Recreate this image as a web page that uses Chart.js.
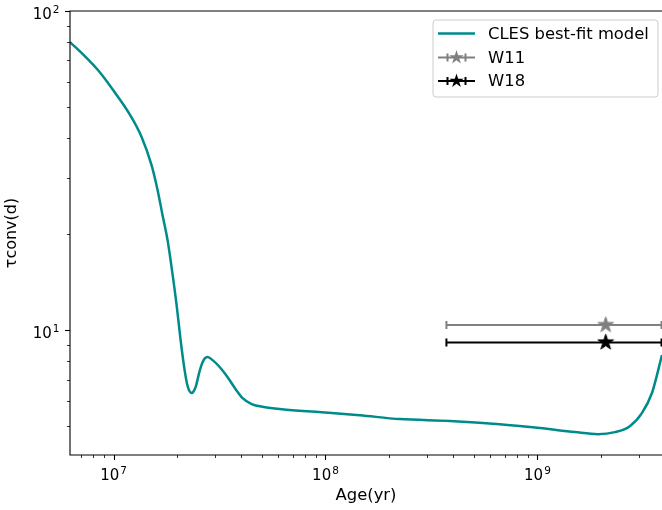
<!DOCTYPE html>
<html>
<head>
<meta charset="utf-8">
<script src="https://cdn.jsdelivr.net/npm/chart.js@4.4.0/dist/chart.umd.min.js"></script>
<style>
    html, body { margin: 0; padding: 0; background: #fff; }
    #chart { display: block; }
</style>
</head>
<body>
<canvas id="chart" width="662" height="510"></canvas>
<script>
// CLES best-fit model (age in yr, tau_conv in days)
var ages = [6.23e6, 7.30e6, 8.59e6, 1.011e7, 1.19e7, 1.356e7, 1.511e7, 1.613e7, 1.703e7, 1.799e7, 1.90e7,
            1.984e7, 2.072e7, 2.164e7, 2.236e7, 2.335e7, 2.439e7, 2.547e7, 2.66e7, 2.778e7, 2.934e7,
            3.166e7, 3.453e7, 3.767e7, 4.065e7, 4.484e7, 5.109e7, 6.21e7, 9.59e7, 1.45e8, 2.24e8,
            3.86e8, 6.64e8, 1.026e9, 1.502e9, 1.929e9, 2.32e9, 2.73e9, 3.11e9, 3.47e9, 3.87e9];
var tauModel = [79.9, 72.3, 64.4, 55.7, 47.5, 40.3, 32.9, 27.5, 22.9, 19.1, 14.9,
                11.98, 9.30, 7.49, 6.67, 6.35, 6.63, 7.44, 8.05, 8.23, 8.05,
                7.66, 7.12, 6.53, 6.12, 5.86, 5.74, 5.65, 5.53, 5.41, 5.26,
                5.19, 5.07, 4.93, 4.79, 4.72, 4.79, 5.00, 5.49, 6.35, 8.35];

// observations with age error bars
var obsLabels = ['W11', 'W18'];
var obsAge = [2.10e9, 2.10e9];
var obsTau = [10.37, 9.15];
var obsAgeLow = [3.72e8, 3.72e8];
var obsAgeHigh = [3.85e9, 3.85e9];

// tick labels: [base, exponent]
var xTickValues = [1e7, 1e8, 1e9];
var xTickLabels = [['10', '7'], ['10', '8'], ['10', '9']];
var yTickValues = [10, 100];
var yTickLabels = [['10', '1'], ['10', '2']];

var modelColor = '#008b8b';
var obsColors = ['#808080', '#000000'];
var FONT = "'DejaVu Sans', sans-serif";


function starPath(g, x, y, r) {
    g.beginPath();
    for (var i = 0; i < 10; i++) {
        var rad = i % 2 === 0 ? r : r * 0.382;
        var a = -Math.PI / 2 + i * Math.PI / 5;
        g.lineTo(x + rad * Math.cos(a), y + rad * Math.sin(a));
    }
    g.closePath();
}

function makeStar(color, r) {
    var c = document.createElement('canvas');
    var size = Math.ceil(r * 2 + 4);
    c.width = size;
    c.height = size;
    var g = c.getContext('2d');
    starPath(g, size / 2, size / 2, r);
    g.fillStyle = color;
    g.fill();
    g.lineWidth = 1;
    g.strokeStyle = color;
    g.stroke();
    return c;
}

// "10" with a raised exponent, like matplotlib's mathtext
function powLabel(ctx, lab, x, baseY, align) {
    ctx.font = '15px ' + FONT;
    var w1 = ctx.measureText(lab[0]).width;
    ctx.font = '10.5px ' + FONT;
    var w2 = ctx.measureText(lab[1]).width;
    var w = w1 + 1 + w2;
    var x0 = align === 'center' ? x - w / 2 : x - w;
    ctx.textAlign = 'left';
    ctx.textBaseline = 'alphabetic';
    ctx.fillStyle = '#000';
    ctx.font = '15px ' + FONT;
    ctx.fillText(lab[0], x0, baseY);
    ctx.font = '10.5px ' + FONT;
    ctx.fillText(lab[1], x0 + w1 + 1, baseY - 6);
}


// spines, tick marks (major/minor) and tick labels
var axesFrame = {
    id: 'axesFrame',
    afterDraw: function (chart) {
        var ctx = chart.ctx, a = chart.chartArea;
        var xs = chart.scales.x, ys = chart.scales.y;
        ctx.save();
        ctx.strokeStyle = '#000';
        ctx.lineWidth = 1.1;
        ctx.beginPath();
        ctx.moveTo(a.right + 2, a.top);
        ctx.lineTo(a.left, a.top);
        ctx.lineTo(a.left, a.bottom);
        ctx.lineTo(a.right + 2, a.bottom);
        ctx.stroke();

        for (var e = 6; e <= 9; e++) {
            for (var k = 1; k <= 9; k++) {
                var v = k * Math.pow(10, e);
                if (v < xs.min || v > xs.max) continue;
                var px = Math.round(xs.getPixelForValue(v)) + 0.5;
                ctx.lineWidth = k === 1 ? 1.1 : 0.8;
                ctx.beginPath();
                ctx.moveTo(px, a.bottom);
                ctx.lineTo(px, a.bottom + (k === 1 ? 5 : 3));
                ctx.stroke();
            }
        }
        for (var e2 = 0; e2 <= 2; e2++) {
            for (var k2 = 1; k2 <= 9; k2++) {
                var v2 = k2 * Math.pow(10, e2);
                if (v2 < ys.min || v2 > ys.max) continue;
                var py = Math.round(ys.getPixelForValue(v2)) + 0.5;
                ctx.lineWidth = k2 === 1 ? 1.1 : 0.8;
                ctx.beginPath();
                ctx.moveTo(a.left, py);
                ctx.lineTo(a.left - (k2 === 1 ? 5 : 3), py);
                ctx.stroke();
            }
        }

        xTickValues.forEach(function (v, i) {
            powLabel(ctx, xTickLabels[i], xs.getPixelForValue(v), a.bottom + 25, 'center');
        });
        yTickValues.forEach(function (v, i) {
            powLabel(ctx, yTickLabels[i], a.left - 10.5, ys.getPixelForValue(v) + 7.5, 'right');
        });
        ctx.restore();
    }
};

// horizontal error bars for the observations
var errorBars = {
    id: 'errorBars',
    beforeDatasetsDraw: function (chart) {
        var ctx = chart.ctx, a = chart.chartArea;
        var xs = chart.scales.x, ys = chart.scales.y;
        ctx.save();
        ctx.beginPath();
        ctx.rect(a.left, a.top, a.right - a.left, a.bottom - a.top);
        ctx.clip();
        for (var i = 0; i < obsAge.length; i++) {
            var y = ys.getPixelForValue(obsTau[i]);
            var x1 = xs.getPixelForValue(obsAgeLow[i]);
            var x2 = xs.getPixelForValue(obsAgeHigh[i]);
            ctx.strokeStyle = obsColors[i];
            ctx.lineWidth = 2;
            ctx.beginPath();
            ctx.moveTo(x1, y);
            ctx.lineTo(x2, y);
            ctx.moveTo(x1, y - 4);
            ctx.lineTo(x1, y + 4);
            ctx.moveTo(x2, y - 4);
            ctx.lineTo(x2, y + 4);
            ctx.stroke();
        }
        ctx.restore();
    }
};

// matplotlib-like legend box
var legendBox = {
    id: 'legendBox',
    afterDraw: function (chart) {
        var ctx = chart.ctx;
        var bx = 433, by = 20, bw = 225, bh = 77, r = 3;
        ctx.save();
        ctx.beginPath();
        ctx.moveTo(bx + r, by);
        ctx.arcTo(bx + bw, by, bx + bw, by + bh, r);
        ctx.arcTo(bx + bw, by + bh, bx, by + bh, r);
        ctx.arcTo(bx, by + bh, bx, by, r);
        ctx.arcTo(bx, by, bx + bw, by, r);
        ctx.closePath();
        ctx.fillStyle = 'rgba(255,255,255,0.8)';
        ctx.fill();
        ctx.strokeStyle = '#cccccc';
        ctx.lineWidth = 1;
        ctx.stroke();

        var rows = [33.5, 57.5, 81];
        var hx1 = 438, hx2 = 475, hc = 456.5;
        ctx.font = '16.4px ' + FONT;
        ctx.textBaseline = 'middle';
        ctx.textAlign = 'left';
        chart.data.datasets.forEach(function (ds, i) {
            var y = rows[i];
            ctx.strokeStyle = ds.borderColor;
            if (i === 0) {
                ctx.lineWidth = 2.5;
                ctx.beginPath();
                ctx.moveTo(hx1, y);
                ctx.lineTo(hx2, y);
                ctx.stroke();
            } else {
                ctx.lineWidth = 2;
                ctx.beginPath();
                ctx.moveTo(hx1, y);
                ctx.lineTo(hx2, y);
                ctx.moveTo(hc - 9, y - 4);
                ctx.lineTo(hc - 9, y + 4);
                ctx.moveTo(hc + 9, y - 4);
                ctx.lineTo(hc + 9, y + 4);
                ctx.stroke();
                starPath(ctx, hc, y, 7.5);
                ctx.fillStyle = ds.borderColor;
                ctx.fill();
            }
            ctx.fillStyle = '#000';
            ctx.fillText(ds.label, 488, y + 1);
        });
        ctx.restore();
    }
};


var datasets = [{
    label: 'CLES best-fit model',
    data: ages.map(function (a, i) { return {x: a, y: tauModel[i]}; }),
    showLine: true,
    borderColor: modelColor,
    borderWidth: 2.5,
    pointRadius: 0,
    cubicInterpolationMode: 'monotone',
    fill: false
}];
obsLabels.forEach(function (lab, i) {
    datasets.push({
        label: lab,
        data: [{x: obsAge[i], y: obsTau[i]}],
        borderColor: obsColors[i],
        backgroundColor: obsColors[i],
        pointStyle: makeStar(obsColors[i], 8.2),
        pointRadius: 8,
        showLine: false
    });
});

var ctx = document.getElementById('chart').getContext('2d');
var myChart = new Chart(ctx, {
    type: 'scatter',
    data: { datasets: datasets },
    options: {
        responsive: false,
        animation: false,
        layout: { autoPadding: false, padding: { top: 11, right: 0, bottom: 0, left: 0 } },
        plugins: {
            legend: { display: false },
            tooltip: { enabled: false }
        },
        scales: {
            x: {
                type: 'logarithmic',
                min: 6.23e6,
                max: 3.87e9,
                grid: { display: false },
                border: { display: false },
                afterBuildTicks: function (s) {
                    s.ticks = xTickValues.map(function (v) { return {value: v}; });
                },
                afterFit: function (s) {
                    s.height = 55;
                    s.paddingLeft = 0;
                    s.paddingRight = 0;
                },
                ticks: { display: false },
                title: {
                    display: true,
                    text: 'Age(yr)',
                    color: '#000',
                    font: { family: FONT, size: 16.4 },
                    padding: { top: 0, bottom: 4 }
                }
            },
            y: {
                type: 'logarithmic',
                min: 4.06,
                max: 100,
                grid: { display: false },
                border: { display: false },
                afterBuildTicks: function (s) {
                    s.ticks = yTickValues.map(function (v) { return {value: v}; });
                },
                afterFit: function (s) {
                    s.width = 70;
                    s.paddingTop = 0;
                    s.paddingBottom = 0;
                },
                ticks: { display: false },
                title: {
                    display: true,
                    text: '\u03c4conv(d)',
                    color: '#000',
                    font: { family: FONT, size: 16 },
                    padding: { top: 2, bottom: 0 }
                }
            }
        }
    },
    plugins: [errorBars, axesFrame, legendBox]
});
</script>
</body>
</html>
